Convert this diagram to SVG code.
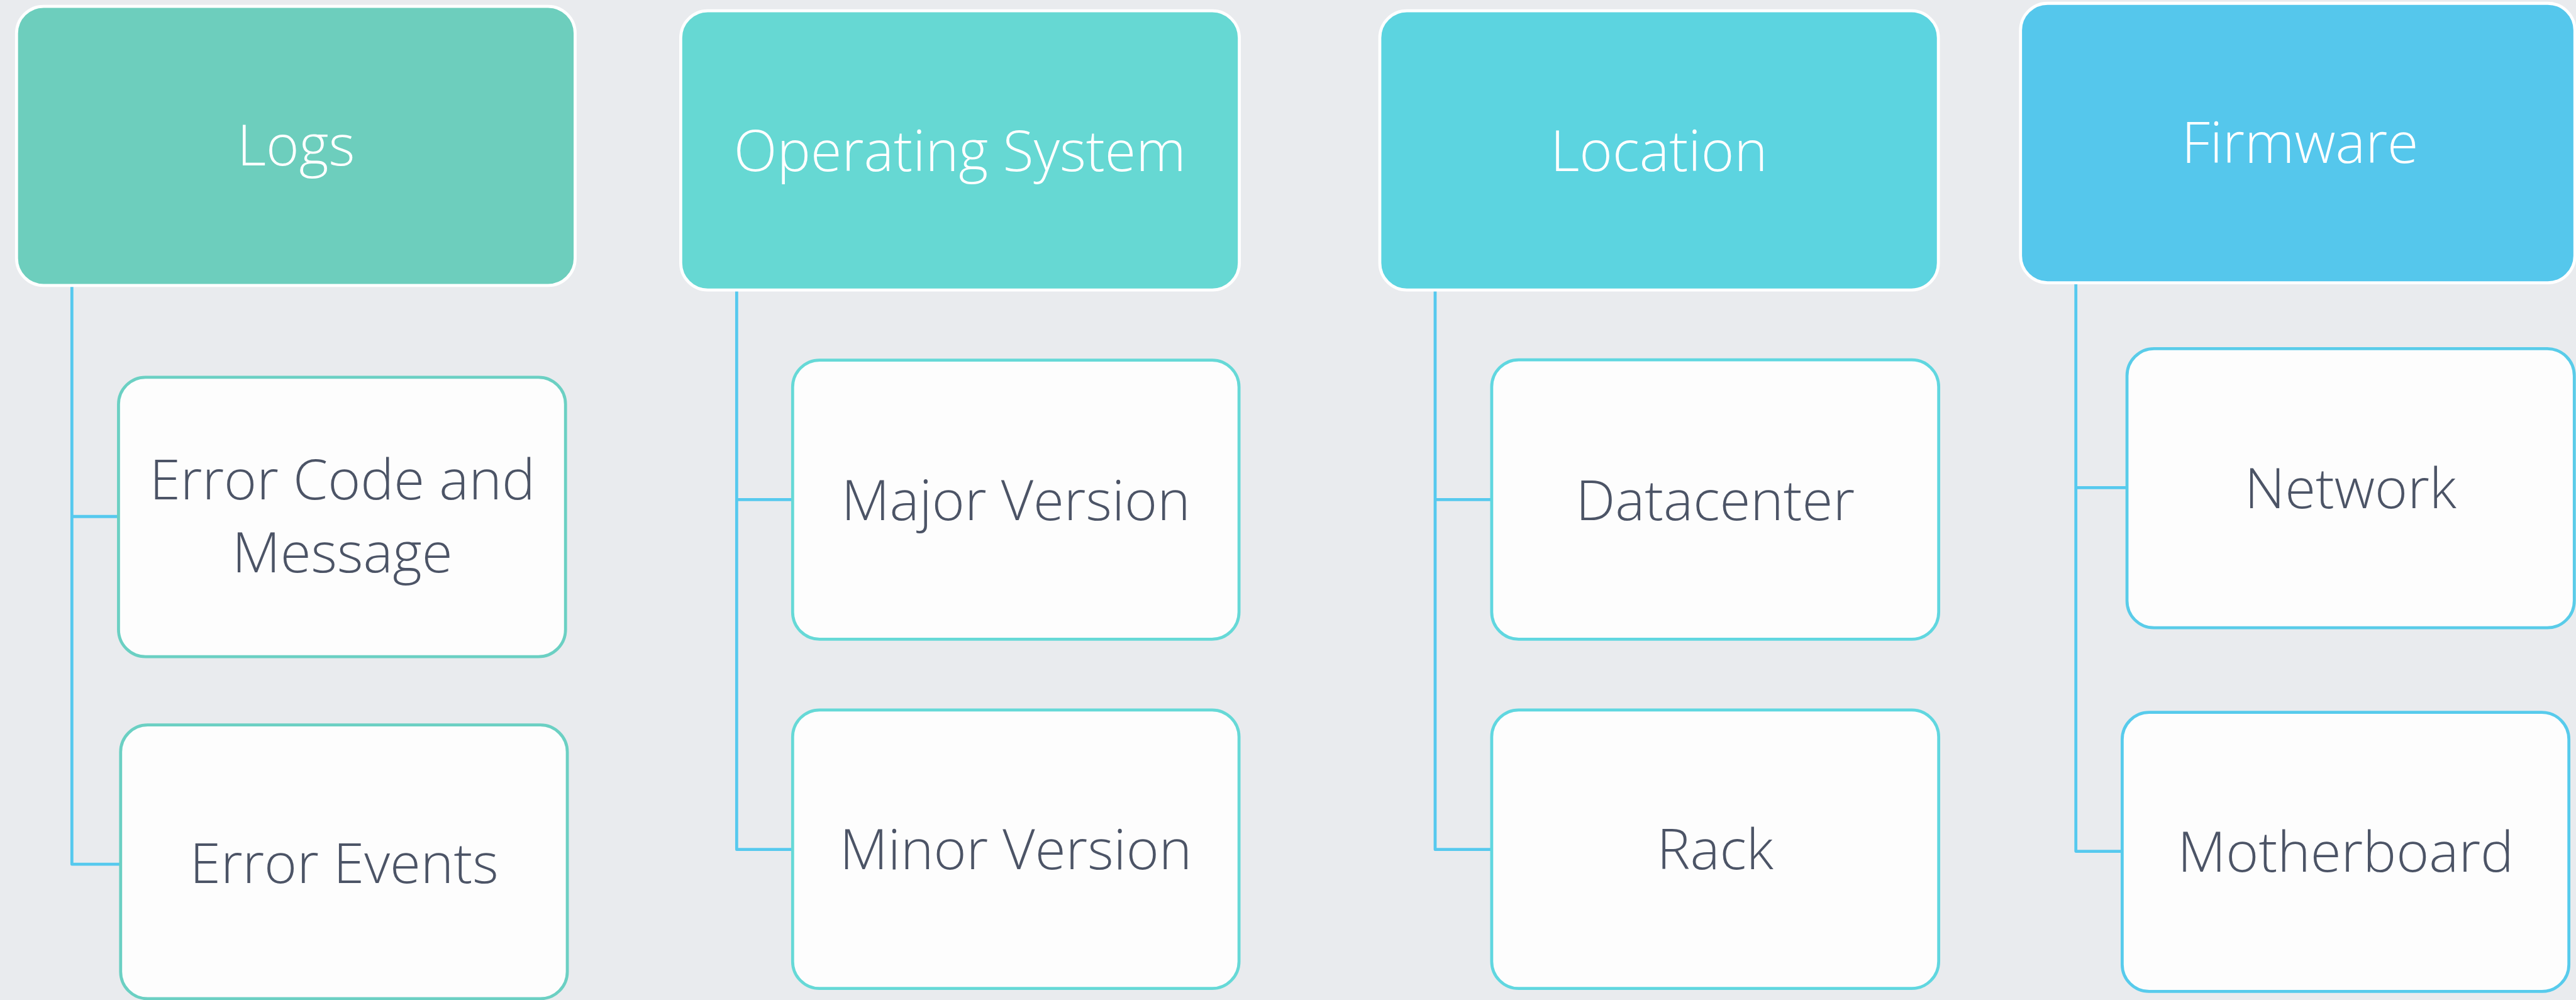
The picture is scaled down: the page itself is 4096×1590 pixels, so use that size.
<svg xmlns="http://www.w3.org/2000/svg" width="4096" height="1590" viewBox="0 0 4096 1590">
<style>
.parent{stroke:#ffffff;stroke-width:5}
.child{fill:#fdfdfd;stroke-width:5}
.conn{fill:none;stroke:#56c9ee;stroke-width:5;stroke-linejoin:round}
.ptxt{font-family:"Open Sans","Liberation Sans",sans-serif;font-weight:330;font-size:94px;fill:#ffffff;text-anchor:middle}
.ctxt{font-family:"Open Sans","Liberation Sans",sans-serif;font-weight:360;font-size:93px;fill:#4c5466;text-anchor:middle}
</style>
<rect x="0" y="0" width="4096" height="1590" fill="#e9ebee"/>
<g transform="scale(0.9566)">
<g id="connectors">
<path class="conn" d="M119.5,474.5 V1436.5 H200.5 M119.5,858.5 H197"/>
<path class="conn" d="M1224.5,482 V1412 H1317.5 M1224.5,830.5 H1317.5"/>
<path class="conn" d="M2385.5,482 V1412 H2479.5 M2385.5,830.5 H2479.5"/>
<path class="conn" d="M3450.5,470 V1415 H3527.5 M3450.5,810.5 H3535.5"/>
</g>
<g id="logs">
<rect class="parent" x="27.5" y="10.5" width="928.5" height="464" rx="45" fill="#6dcebd"/>
<text class="ptxt" x="492" y="275">Logs</text>
</g>
<g id="error-code">
<rect class="child" x="197" y="627" width="743" height="464.5" rx="45" stroke="#6bd0c3"/>
<text class="ctxt" x="569" y="830">Error Code and</text>
<text class="ctxt" x="569" y="951">Message</text>
</g>
<g id="error-events">
<rect class="child" x="200.5" y="1205" width="742.5" height="455" rx="45" stroke="#6bd0c3"/>
<text class="ctxt" x="572" y="1468">Error Events</text>
</g>
<g id="operating-system">
<rect class="parent" x="1131.5" y="18" width="928.5" height="464" rx="45" fill="#66d8d3"/>
<text class="ptxt" x="1595.5" y="284">Operating System</text>
</g>
<g id="major-version">
<rect class="child" x="1317.5" y="598.5" width="742" height="464" rx="45" stroke="#66d9d7"/>
<text class="ctxt" x="1688.5" y="864">Major Version</text>
</g>
<g id="minor-version">
<rect class="child" x="1317.5" y="1180" width="742" height="463" rx="45" stroke="#66d9d7"/>
<text class="ctxt" x="1688.5" y="1445">Minor Version</text>
</g>
<g id="location">
<rect class="parent" x="2293.5" y="18" width="928.5" height="464" rx="45" fill="#5cd4e0"/>
<text class="ptxt" x="2757.5" y="284">Location</text>
</g>
<g id="datacenter">
<rect class="child" x="2479.5" y="598" width="743" height="464.5" rx="45" stroke="#60d7e0"/>
<text class="ctxt" x="2851" y="865">Datacenter</text>
</g>
<g id="rack">
<rect class="child" x="2479.5" y="1180" width="743" height="463" rx="45" stroke="#60d7e0"/>
<text class="ctxt" x="2851" y="1445">Rack</text>
</g>
<g id="firmware">
<rect class="parent" x="3358.5" y="5.5" width="921.5" height="464.5" rx="45" fill="#55c7ec"/>
<text class="ptxt" x="3823" y="271">Firmware</text>
</g>
<g id="network">
<rect class="child" x="3535.5" y="579.5" width="743.5" height="464" rx="45" stroke="#59cce9"/>
<text class="ctxt" x="3907" y="845">Network</text>
</g>
<g id="motherboard">
<rect class="child" x="3527.5" y="1184" width="742.5" height="464" rx="45" stroke="#57cbec"/>
<text class="ctxt" x="3899" y="1449">Motherboard</text>
</g>
</g>
</svg>
